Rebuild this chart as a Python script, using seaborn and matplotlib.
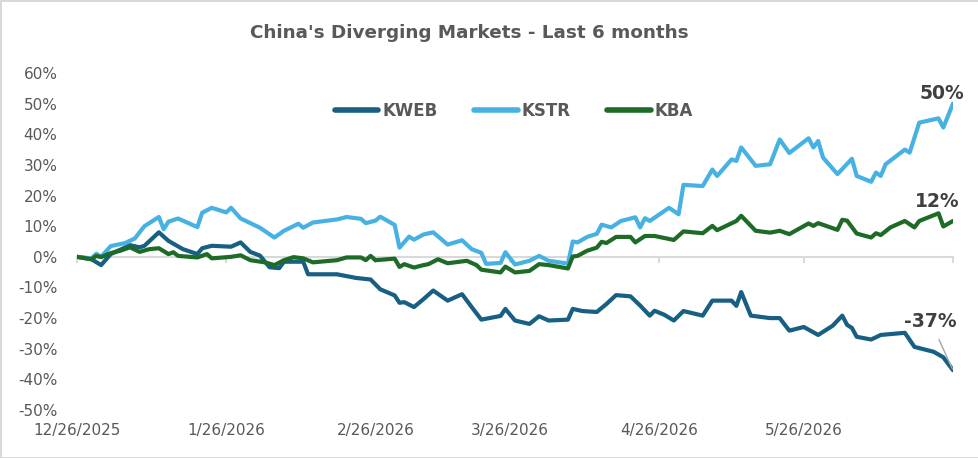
import matplotlib
matplotlib.use("Agg")
import matplotlib.pyplot as plt
import matplotlib.dates as mdates
import seaborn as sns
import pandas as pd

# ---- data (cumulative return, %) ----
funds = ["KWEB", "KSTR", "KBA"]
colors = ["#175f83", "#47b1e3", "#1d6b27"]

kweb_dates = ["2025-12-26", "2025-12-29", "2025-12-31", "2026-01-02", "2026-01-06", "2026-01-08",
              "2026-01-09", "2026-01-12", "2026-01-14", "2026-01-17", "2026-01-20", "2026-01-21",
              "2026-01-23", "2026-01-27", "2026-01-29", "2026-01-31", "2026-02-02", "2026-02-04",
              "2026-02-06", "2026-02-07", "2026-02-11", "2026-02-12", "2026-02-18", "2026-02-22",
              "2026-02-25", "2026-02-27", "2026-03-02", "2026-03-03", "2026-03-04", "2026-03-06",
              "2026-03-08", "2026-03-10", "2026-03-13", "2026-03-16", "2026-03-18", "2026-03-20",
              "2026-03-24", "2026-03-25", "2026-03-27", "2026-03-30", "2026-04-01", "2026-04-03",
              "2026-04-07", "2026-04-08", "2026-04-10", "2026-04-13", "2026-04-15", "2026-04-17",
              "2026-04-20", "2026-04-22", "2026-04-24", "2026-04-25", "2026-04-27", "2026-04-29",
              "2026-05-01", "2026-05-05", "2026-05-07", "2026-05-11", "2026-05-12", "2026-05-13",
              "2026-05-15", "2026-05-19", "2026-05-21", "2026-05-23", "2026-05-26", "2026-05-29",
              "2026-06-01", "2026-06-03", "2026-06-04", "2026-06-05", "2026-06-06", "2026-06-09",
              "2026-06-11", "2026-06-16", "2026-06-18", "2026-06-22", "2026-06-24", "2026-06-26"]
kweb = [0.0, -0.8, -2.7, 0.9, 3.8, 3.1, 3.6, 8.0, 5.2, 2.5, 0.9, 2.8,
        3.6, 3.3, 4.7, 1.6, 0.4, -3.4, -3.7, -1.6, -1.6, -5.7, -5.7, -6.9,
        -7.4, -10.6, -12.6, -15.0, -14.8, -16.4, -13.8, -11.0, -14.3, -12.2, -16.4, -20.5,
        -19.3, -17.0, -20.8, -21.9, -19.4, -20.8, -20.5, -17.0, -17.7, -18.0, -15.4, -12.5,
        -12.9, -15.9, -19.2, -17.6, -18.9, -20.8, -17.7, -19.2, -14.3, -14.3, -16.0, -11.5,
        -19.2, -20.0, -20.0, -24.1, -22.9, -25.5, -22.5, -19.2, -22.2, -23.2, -26.1, -27.0,
        -25.5, -24.8, -29.4, -31.0, -32.8, -37.0]

kstr_dates = ["2025-12-26", "2025-12-29", "2025-12-30", "2025-12-31", "2026-01-02", "2026-01-05",
              "2026-01-07", "2026-01-09", "2026-01-12", "2026-01-13", "2026-01-14", "2026-01-16",
              "2026-01-20", "2026-01-21", "2026-01-23", "2026-01-26", "2026-01-27", "2026-01-29",
              "2026-01-31", "2026-02-02", "2026-02-05", "2026-02-07", "2026-02-10", "2026-02-11",
              "2026-02-13", "2026-02-18", "2026-02-20", "2026-02-23", "2026-02-24", "2026-02-26",
              "2026-02-27", "2026-03-02", "2026-03-03", "2026-03-05", "2026-03-06", "2026-03-08",
              "2026-03-10", "2026-03-13", "2026-03-16", "2026-03-18", "2026-03-20", "2026-03-21",
              "2026-03-24", "2026-03-25", "2026-03-27", "2026-03-30", "2026-04-01", "2026-04-03",
              "2026-04-07", "2026-04-08", "2026-04-09", "2026-04-11", "2026-04-13", "2026-04-14",
              "2026-04-16", "2026-04-18", "2026-04-21", "2026-04-22", "2026-04-23", "2026-04-24",
              "2026-04-28", "2026-04-30", "2026-05-01", "2026-05-05", "2026-05-07", "2026-05-08",
              "2026-05-11", "2026-05-12", "2026-05-13", "2026-05-16", "2026-05-19", "2026-05-21",
              "2026-05-23", "2026-05-27", "2026-05-28", "2026-05-29", "2026-05-30", "2026-06-02",
              "2026-06-05", "2026-06-06", "2026-06-09", "2026-06-10", "2026-06-11", "2026-06-12",
              "2026-06-16", "2026-06-17", "2026-06-19", "2026-06-23", "2026-06-24", "2026-06-26"]
kstr = [0.0, -0.5, 1.0, 0.0, 3.5, 4.5, 6.0, 10.0, 13.0, 9.0, 11.5, 12.5,
        9.7, 14.4, 16.0, 14.5, 16.0, 12.5, 11.0, 9.5, 6.3, 8.5, 10.8, 9.5,
        11.2, 12.2, 13.0, 12.4, 11.0, 11.8, 13.1, 10.4, 3.0, 6.6, 5.6, 7.3,
        8.0, 4.0, 5.4, 2.5, 1.3, -2.3, -2.0, 1.5, -2.5, -1.3, 0.3, -1.3,
        -2.2, 5.0, 4.7, 6.5, 7.5, 10.5, 9.6, 11.7, 12.9, 9.6, 12.6, 11.7,
        16.0, 13.9, 23.5, 23.1, 28.5, 26.4, 31.8, 31.3, 35.7, 29.7, 30.2, 38.3,
        33.9, 38.7, 35.7, 37.8, 32.4, 27.0, 32.0, 26.4, 24.5, 27.5, 26.4, 30.2,
        35.0, 34.0, 43.8, 45.2, 42.2, 50.0]

kba_dates = ["2025-12-26", "2025-12-29", "2025-12-30", "2025-12-31", "2026-01-02", "2026-01-04",
             "2026-01-06", "2026-01-08", "2026-01-10", "2026-01-12", "2026-01-14", "2026-01-15",
             "2026-01-16", "2026-01-20", "2026-01-22", "2026-01-23", "2026-01-27", "2026-01-29",
             "2026-01-31", "2026-02-03", "2026-02-05", "2026-02-07", "2026-02-09", "2026-02-11",
             "2026-02-13", "2026-02-18", "2026-02-20", "2026-02-23", "2026-02-24", "2026-02-25",
             "2026-02-26", "2026-03-02", "2026-03-03", "2026-03-04", "2026-03-06", "2026-03-08",
             "2026-03-09", "2026-03-11", "2026-03-13", "2026-03-17", "2026-03-19", "2026-03-20",
             "2026-03-24", "2026-03-25", "2026-03-27", "2026-03-30", "2026-04-01", "2026-04-03",
             "2026-04-07", "2026-04-08", "2026-04-09", "2026-04-11", "2026-04-13", "2026-04-14",
             "2026-04-15", "2026-04-17", "2026-04-20", "2026-04-21", "2026-04-23", "2026-04-25",
             "2026-04-29", "2026-05-01", "2026-05-05", "2026-05-07", "2026-05-08", "2026-05-12",
             "2026-05-13", "2026-05-16", "2026-05-19", "2026-05-21", "2026-05-23", "2026-05-27",
             "2026-05-28", "2026-05-29", "2026-06-02", "2026-06-03", "2026-06-04", "2026-06-06",
             "2026-06-09", "2026-06-10", "2026-06-11", "2026-06-13", "2026-06-16", "2026-06-18",
             "2026-06-19", "2026-06-23", "2026-06-24", "2026-06-26"]
kba = [0.0, -0.8, 0.3, -0.1, 1.2, 2.0, 3.1, 1.6, 2.5, 2.8, 0.9, 1.5,
       0.3, -0.2, 0.9, -0.5, 0.0, 0.5, -1.1, -1.8, -2.7, -1.1, -0.1, -0.5,
       -1.8, -1.1, -0.2, -0.2, -1.1, 0.3, -1.1, -0.6, -3.3, -2.4, -3.5, -2.7,
       -2.4, -0.8, -2.1, -1.3, -2.7, -4.2, -5.1, -3.2, -5.1, -4.6, -2.4, -2.7,
       -3.8, 0.1, 0.3, 2.0, 3.0, 4.9, 4.5, 6.5, 6.5, 4.7, 6.8, 6.8,
       5.5, 8.3, 7.7, 10.1, 8.7, 11.7, 13.4, 8.5, 7.9, 8.5, 7.4, 10.9,
       10.1, 11.0, 8.8, 12.1, 11.8, 7.6, 6.3, 7.7, 7.1, 9.6, 11.7, 9.6,
       11.7, 14.2, 9.9, 11.7]

tick_dates = ["2025-12-26", "2026-01-26", "2026-02-26", "2026-03-26", "2026-04-26", "2026-05-26"]
axis_end = "2026-06-26"
title = "China's Diverging Markets - Last 6 months"

# ---- build long table ----
frames = []
for name, d, v in [("KWEB", kweb_dates, kweb), ("KSTR", kstr_dates, kstr), ("KBA", kba_dates, kba)]:
    frames.append(pd.DataFrame({"date": pd.to_datetime(d), "value": v, "fund": name}))
df = pd.concat(frames, ignore_index=True)

sns.set_style("white")
plt.rcParams["font.family"] = ["DejaVu Sans"]

fig = plt.figure(figsize=(9.79, 4.58), dpi=100)
fig.patch.set_edgecolor("#d9d9d9")
fig.patch.set_linewidth(2)
ax = fig.add_axes([0.0787, 0.1048, 0.8947, 0.7358])

sns.lineplot(data=df, x="date", y="value", hue="fund", hue_order=funds,
             palette=colors, linewidth=3, estimator=None, sort=True, ax=ax)
for ln in ax.get_lines():
    ln.set_solid_joinstyle("round")
    ln.set_solid_capstyle("round")

ymin, ymax = -50, 60
start, end = pd.Timestamp(tick_dates[0]), pd.Timestamp(axis_end)
ax.set_ylim(ymin, ymax)
ax.set_xlim(start, end)
ax.set_yticks(range(ymin, ymax + 1, 10))
ax.yaxis.set_major_formatter(plt.FuncFormatter(lambda v, p: f"{v:.0f}%"))
ax.set_xticks(pd.to_datetime(tick_dates))
ax.xaxis.set_major_formatter(plt.FuncFormatter(
    lambda v, p: f"{mdates.num2date(v).month}/{mdates.num2date(v).day}/{mdates.num2date(v).year}"))
ax.tick_params(axis="y", length=0, pad=14, labelsize=11, labelcolor="#595959")
ax.tick_params(axis="x", length=0, pad=9, labelsize=11, labelcolor="#595959")
ax.set_xlabel("")
ax.set_ylabel("")
for s in ax.spines.values():
    s.set_visible(False)

# horizontal axis line at 0% with tick marks
zero_pos = (0 - ymin) / (ymax - ymin)
sec = ax.secondary_xaxis(zero_pos)
sec.set_alignment("bottom")
sec.set_xticks(mdates.date2num(list(pd.to_datetime(tick_dates)) + [end]))
sec.tick_params(axis="x", length=4, width=1.5, color="#d9d9d9", labelbottom=False, labeltop=False)
sec.spines["bottom"].set_color("#d9d9d9")
sec.spines["bottom"].set_linewidth(1.5)

# legend
sns.move_legend(ax, "center", bbox_to_anchor=(0.499, 0.887), ncol=3, frameon=False, title=None,
                handlelength=2.6, handletextpad=0.25, columnspacing=2.2,
                prop={"weight": "bold", "size": 12}, labelcolor="#595959")
for ln in ax.get_legend().get_lines():
    ln.set_linewidth(4)
    ln.set_solid_capstyle("round")

# end labels
offsets = {"KWEB": (-16, 35), "KSTR": (-8, 7), "KBA": (-11, 14)}
for name in funds:
    sub = df[df["fund"] == name]
    last = sub.iloc[-1]
    arrow = dict(arrowstyle="-", color="#a6a6a6", lw=1, shrinkA=4, shrinkB=1) if name == "KWEB" else None
    ax.annotate(f"{last['value']:.0f}%", xy=(last["date"], last["value"]),
                xytext=offsets[name], textcoords="offset points", ha="center", va="center",
                fontsize=13.5, fontweight="bold", color="#404040", arrowprops=arrow)

fig.text(0.479, 0.928, title, ha="center", va="center", fontsize=13.2,
         fontweight="bold", color="#595959")

fig.savefig("out.png", dpi=100)
